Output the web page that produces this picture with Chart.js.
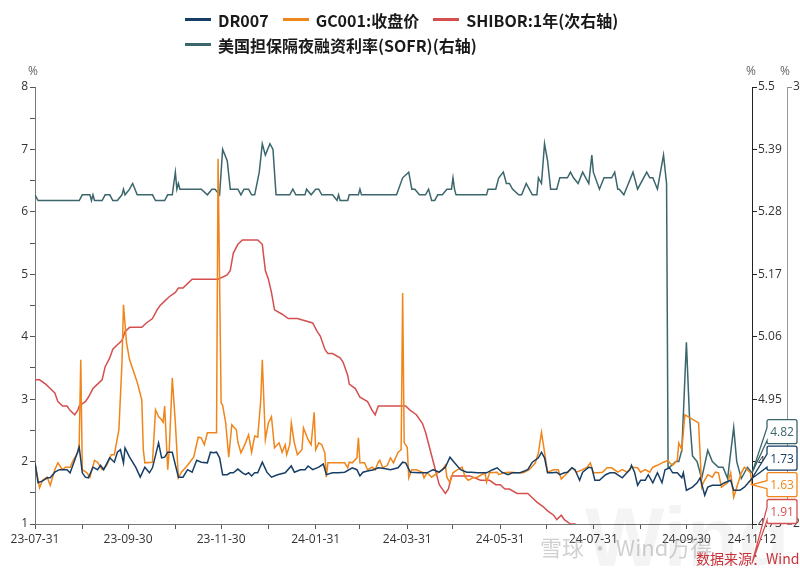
<!DOCTYPE html>
<html>
<head>
<meta charset="utf-8">
<script src="https://cdn.jsdelivr.net/npm/chart.js@4.4.1/dist/chart.umd.min.js"></script>
<style>
  html, body { margin: 0; padding: 0; background: #fff; }
  #wrap { position: relative; width: 800px; height: 569px; }
  #legend { position: absolute; left: 185px; top: 7px; font: 600 16px "Noto Sans CJK SC", sans-serif; color: #1a1a1a; }
  .row { height: 25px; display: flex; align-items: center; }
  .item { display: flex; align-items: center; margin-right: 14px; white-space: nowrap; }
  .sw { width: 26px; height: 3px; margin-right: 7px; }
</style>
</head>
<body>
<div id="wrap">
  <canvas id="chart" width="800" height="569"></canvas>
  <div id="legend"></div>
</div>
<script>
// days counted from 2023-07-31
const seriesNames = ['DR007', 'GC001:收盘价', 'SHIBOR:1年(次右轴)', '美国担保隔夜融资利率(SOFR)(右轴)'];
const seriesColors = ['#173f66', '#f0851a', '#d64f4f', '#3a666c'];

const xTickDays = [0, 31, 61, 92, 122, 153, 184, 213, 244, 274, 305, 335, 366, 397, 427, 470];
const xTickLabels = ['23-07-31', '', '23-09-30', '', '23-11-30', '', '24-01-31', '', '24-03-31', '', '24-05-31', '', '24-07-31', '', '24-09-30', '24-11-12'];
const leftTicks = [1, 1.5, 2, 2.5, 3, 3.5, 4, 4.5, 5, 5.5, 6, 6.5, 7, 7.5, 8];
const rightTicks = [4.73, 4.84, 4.95, 5.06, 5.17, 5.28, 5.39, 5.5];
const right2Ticks = [2, 3];

const dr007 = [
  [0,1.98],[2,1.66],[5,1.69],[8,1.74],[10,1.74],[13,1.83],[16,1.87],[21,1.87],[23,1.82],[26,2.02],
  [29,2.23],[31,1.82],[33,1.75],[35,1.74],[38,1.91],[41,1.87],[43,1.94],[45,1.87],[49,2.06],[52,1.99],
  [54,2.15],[56,2.19],[58,1.98],[59,2.22],[62,2.07],[66,1.91],[69,1.75],[72,1.91],[75,1.82],[77,1.90],
  [81,2.30],[83,2.06],[85,2.07],[87,2.15],[90,2.15],[94,1.75],[97,1.75],[100,1.87],[103,1.83],[106,2.02],
  [109,1.99],[113,1.98],[115,2.15],[117,2.14],[119,2.15],[121,2.06],[123,1.79],[126,1.79],[128,1.82],[130,1.82],
  [133,1.88],[136,1.82],[138,1.79],[140,1.82],[142,1.77],[144,1.82],[146,1.82],[149,1.99],[152,1.83],[155,1.75],
  [159,1.79],[164,1.82],[168,1.93],[170,1.83],[174,1.87],[177,1.87],[179,1.93],[182,1.87],[186,1.91],[189,1.96],
  [191,1.79],[195,1.82],[199,1.82],[203,1.83],[208,1.90],[211,1.87],[213,1.77],[215,1.83],[218,1.85],[222,1.87],
  [225,1.90],[229,1.89],[233,1.87],[238,1.90],[241,1.99],[243,1.98],[246,1.83],[252,1.82],[257,1.82],[261,1.87],
  [265,1.83],[269,1.91],[272,2.07],[275,1.98],[279,1.87],[283,1.83],[286,1.83],[290,1.82],[296,1.82],[300,1.87],
  [303,1.90],[306,1.83],[310,1.79],[313,1.82],[318,1.82],[323,1.87],[326,1.99],[330,2.06],[332,2.15],[334,2.06],
  [336,1.82],[339,1.82],[342,1.83],[344,1.79],[347,1.82],[349,1.83],[352,1.90],[354,1.87],[357,1.70],[359,1.83],
  [363,1.91],[365,1.90],[367,1.70],[370,1.70],[374,1.79],[377,1.82],[380,1.82],[385,1.74],[388,1.82],[390,1.87],
  [391,1.94],[393,1.83],[395,1.62],[397,1.70],[400,1.70],[402,1.79],[405,1.66],[408,1.82],[411,1.66],[413,1.87],
  [416,1.90],[418,1.82],[421,1.82],[424,1.74],[425,1.82],[427,1.54],[431,1.59],[434,1.66],[436,1.74],[439,1.46],
  [441,1.59],[444,1.62],[449,1.62],[452,1.66],[456,1.70],[458,1.54],[462,1.54],[465,1.59],[469,1.70],[470,1.73]
];

const gc001 = [
  [0,1.98],[3,1.58],[5,1.70],[8,1.75],[10,1.62],[13,1.87],[15,1.98],[18,1.87],[20,1.91],[23,1.91],
  [25,2.02],[28,2.14],[29,2.30],[30,3.63],[31,1.87],[34,1.82],[36,1.75],[39,2.02],[41,1.99],[44,1.87],
  [47,1.94],[50,2.11],[52,2.11],[55,2.51],[57,3.58],[58,4.51],[60,3.90],[62,3.63],[67,3.27],[70,2.99],
  [71,2.19],[72,1.98],[77,1.99],[79,2.83],[81,2.72],[83,2.67],[84,2.63],[85,2.89],[87,1.87],[88,2.19],
  [90,3.34],[92,2.62],[94,1.74],[96,1.83],[100,1.94],[104,2.07],[107,2.39],[109,2.38],[111,2.27],[113,2.46],
  [119,2.46],[120,6.85],[122,2.94],[123,2.90],[125,2.62],[127,2.07],[129,2.59],[132,2.51],[133,2.31],[135,2.14],
  [138,2.30],[140,2.43],[142,2.15],[144,2.41],[146,2.39],[148,2.99],[149,3.63],[151,2.35],[153,2.62],[155,2.72],
  [157,2.22],[160,2.30],[162,2.15],[164,2.27],[165,2.11],[167,2.27],[168,2.62],[170,2.30],[172,2.11],[175,2.19],
  [176,2.54],[179,2.35],[181,2.27],[183,2.79],[184,2.19],[186,2.30],[188,2.27],[190,2.14],[191,1.75],[192,1.98],
  [203,1.98],[205,1.90],[206,1.99],[208,1.98],[211,2.06],[212,2.38],[213,1.98],[216,1.98],[218,1.87],[221,1.91],
  [223,1.87],[225,1.99],[226,2.02],[228,1.90],[231,1.94],[233,2.06],[235,1.98],[238,2.15],[240,2.19],[241,4.70],
  [242,2.30],[244,2.23],[245,1.74],[247,1.87],[250,1.87],[254,1.83],[255,1.74],[257,1.82],[260,1.75],[264,1.82],
  [267,1.87],[269,1.94],[270,1.75],[272,1.66],[274,1.82],[277,1.87],[280,1.91],[282,1.75],[284,1.70],[287,1.74],
  [290,1.75],[295,1.82],[296,1.67],[298,1.82],[303,1.83],[304,1.79],[307,1.82],[311,1.83],[316,1.82],[320,1.82],
  [324,1.87],[328,1.98],[330,2.14],[332,2.47],[334,2.15],[336,1.83],[340,1.87],[343,1.87],[345,1.72],[349,1.82],
  [352,1.90],[355,1.83],[359,1.87],[362,1.91],[364,1.98],[366,1.82],[369,1.82],[372,1.83],[375,1.90],[378,1.90],
  [382,1.83],[385,1.87],[388,1.83],[391,1.91],[395,1.90],[397,1.83],[400,1.87],[403,1.83],[405,1.91],[408,1.94],
  [412,1.99],[415,2.02],[416,1.98],[418,1.94],[421,2.02],[422,2.30],[424,2.19],[426,2.75],[428,2.72],[435,2.62],
  [437,1.59],[438,1.66],[441,1.79],[444,1.75],[446,1.83],[448,1.82],[450,1.59],[454,1.66],[456,1.82],[458,1.43],
  [460,1.59],[463,1.82],[465,1.91],[469,1.82],[470,1.63]
];

const shibor = [
  [0,2.33],[3,2.33],[7,2.32],[10,2.31],[13,2.30],[15,2.28],[18,2.27],[21,2.27],[23,2.26],[26,2.25],
  [28,2.26],[29,2.27],[33,2.28],[35,2.29],[38,2.31],[41,2.32],[44,2.33],[46,2.36],[49,2.38],[51,2.40],
  [54,2.41],[57,2.42],[59,2.44],[62,2.45],[70,2.45],[73,2.46],[77,2.47],[80,2.49],[82,2.50],[85,2.51],
  [88,2.52],[92,2.53],[94,2.54],[97,2.54],[100,2.55],[103,2.56],[111,2.56],[120,2.56],[126,2.57],[128,2.58],
  [130,2.62],[133,2.64],[136,2.65],[142,2.65],[146,2.65],[149,2.64],[151,2.58],[153,2.56],[155,2.53],[157,2.49],
  [162,2.48],[166,2.47],[172,2.47],[182,2.46],[185,2.44],[187,2.43],[190,2.40],[192,2.39],[195,2.39],[200,2.38],
  [202,2.37],[205,2.34],[206,2.32],[210,2.31],[213,2.29],[218,2.28],[221,2.26],[223,2.25],[225,2.27],[227,2.27],
  [239,2.27],[243,2.27],[246,2.26],[250,2.25],[254,2.23],[256,2.21],[259,2.17],[262,2.13],[265,2.09],[269,2.07],
  [271,2.08],[273,2.11],[279,2.11],[285,2.11],[292,2.10],[298,2.10],[302,2.09],[305,2.09],[308,2.08],[311,2.08],
  [316,2.07],[319,2.07],[323,2.07],[326,2.06],[329,2.05],[333,2.04],[336,2.03],[340,2.02],[342,2.01],[345,2.02],
  [347,2.01],[351,2.00],[354,2.00],[360,1.98],[380,1.96],[400,1.95],[420,1.93],[440,1.92],[470,1.91]
];

const sofr = [
  [0,5.31],[2,5.30],[29,5.30],[31,5.31],[36,5.31],[37,5.30],[38,5.31],[39,5.30],[44,5.30],[46,5.31],
  [49,5.31],[51,5.30],[54,5.30],[57,5.31],[58,5.32],[59,5.31],[62,5.32],[64,5.33],[67,5.31],[69,5.31],
  [77,5.31],[79,5.30],[85,5.30],[87,5.31],[90,5.31],[92,5.35],[93,5.32],[94,5.33],[95,5.32],[109,5.32],
  [113,5.31],[116,5.32],[118,5.32],[121,5.31],[123,5.39],[126,5.37],[128,5.32],[133,5.32],[135,5.31],[137,5.32],
  [140,5.32],[142,5.31],[144,5.31],[147,5.35],[149,5.40],[151,5.38],[154,5.40],[156,5.39],[158,5.31],[167,5.31],
  [169,5.32],[171,5.31],[177,5.31],[178,5.32],[181,5.31],[184,5.32],[186,5.32],[188,5.31],[195,5.31],[198,5.30],
  [199,5.31],[200,5.30],[205,5.30],[206,5.31],[212,5.31],[213,5.32],[214,5.31],[237,5.31],[241,5.34],[245,5.35],
  [247,5.32],[249,5.32],[252,5.31],[256,5.31],[258,5.32],[260,5.30],[262,5.30],[264,5.31],[267,5.31],[270,5.32],
  [273,5.32],[274,5.34],[275,5.32],[276,5.31],[296,5.31],[297,5.32],[302,5.32],[304,5.34],[307,5.35],[309,5.33],
  [311,5.33],[313,5.32],[317,5.31],[319,5.31],[322,5.33],[324,5.32],[326,5.31],[329,5.31],[330,5.34],[332,5.33],
  [334,5.40],[336,5.37],[338,5.32],[342,5.32],[344,5.34],[349,5.34],[351,5.35],[353,5.34],[356,5.33],[359,5.35],
  [363,5.33],[365,5.38],[366,5.35],[370,5.32],[373,5.34],[378,5.34],[380,5.35],[382,5.32],[383,5.32],[386,5.31],
  [389,5.33],[392,5.35],[395,5.32],[401,5.35],[403,5.34],[405,5.34],[408,5.32],[412,5.38],[414,5.33],[415,4.83],
  [416,4.83],[420,4.84],[422,4.84],[424,4.86],[427,5.05],[429,4.92],[431,4.85],[434,4.84],[437,4.81],[441,4.86],
  [444,4.84],[448,4.83],[451,4.83],[454,4.81],[458,4.90],[460,4.84],[463,4.81],[467,4.83],[470,4.82]
];

const seriesData = [dr007, gc001, shibor, sofr];
const seriesAxes = ['y', 'y', 'y2', 'y1'];

// legend, laid out as in the reference: three items then one
const legendRows = [[0, 1, 2], [3]];
const legendEl = document.getElementById('legend');
legendRows.forEach(row => {
  const r = document.createElement('div');
  r.className = 'row';
  row.forEach(i => {
    const item = document.createElement('div');
    item.className = 'item';
    item.innerHTML = `<span class="sw" style="background:${seriesColors[i]}"></span>${seriesNames[i]}`;
    r.appendChild(item);
  });
  legendEl.appendChild(r);
});

const tickFont = { family: '"Open Sans", "Noto Sans", sans-serif', size: 12 };

// units, value callouts at the right end, source note and watermark
const extras = {
  id: 'extras',
  beforeDatasetsDraw(chart) {
    const ctx = chart.ctx;
    ctx.save();
    ctx.fillStyle = 'rgba(0,0,0,0.045)';
    ctx.font = 'bold 84px "Liberation Sans", sans-serif';
    ctx.textBaseline = 'alphabetic';
    ctx.fillText('Wind', 585, 566);
    ctx.restore();
  },
  afterDraw(chart) {
    const ctx = chart.ctx;
    const area = chart.chartArea;
    ctx.save();
    ctx.font = '12px "Open Sans", sans-serif';
    ctx.fillStyle = '#666';
    ctx.textAlign = 'center';
    ctx.textBaseline = 'middle';
    ctx.fillText('%', chart.scales.y.right - 2, 72);
    ctx.fillText('%', chart.scales.y1.left - 1, 72);
    ctx.fillText('%', chart.scales.y2.left - 2, 72);

    // callouts: place at the end value, push apart from the bottom
    const h = 24, gap = 26.5;
    const items = seriesData.map((d, i) => {
      const last = d[d.length - 1];
      const yScale = chart.scales[seriesAxes[i]];
      return { i, val: last[1], tip: yScale.getPixelForValue(last[1]) };
    }).sort((a, b) => b.tip - a.tip);
    let limit = area.bottom - h / 2 - 0.5;
    items.forEach(it => {
      it.cy = Math.min(it.tip, limit);
      limit = it.cy - gap;
    });
    const tipX = chart.scales.x.getPixelForValue(470);
    const bx = 767, bw = 30;
    ctx.font = '12px "Open Sans", sans-serif';
    items.forEach(it => {
      const col = seriesColors[it.i];
      const top = it.cy - h / 2, bot = it.cy + h / 2;
      const a1 = Math.max(top + 3, Math.min(it.tip, it.cy) - 4);
      const a2 = Math.min(bot - 3, Math.max(it.tip, it.cy) + 4);
      ctx.beginPath();
      ctx.moveTo(tipX, it.tip);
      ctx.lineTo(bx, a1);
      ctx.lineTo(bx, top + 2);
      ctx.quadraticCurveTo(bx, top, bx + 2, top);
      ctx.lineTo(bx + bw - 2, top);
      ctx.quadraticCurveTo(bx + bw, top, bx + bw, top + 2);
      ctx.lineTo(bx + bw, bot - 2);
      ctx.quadraticCurveTo(bx + bw, bot, bx + bw - 2, bot);
      ctx.lineTo(bx + 2, bot);
      ctx.quadraticCurveTo(bx, bot, bx, bot - 2);
      ctx.lineTo(bx, a2);
      ctx.closePath();
      ctx.fillStyle = '#fff';
      ctx.fill();
      ctx.strokeStyle = col;
      ctx.lineWidth = 1.3;
      ctx.stroke();
      ctx.fillStyle = col;
      ctx.fillText(it.val.toFixed(2), bx + bw / 2, it.cy + 1);
    });

    ctx.textAlign = 'left';
    ctx.textBaseline = 'alphabetic';
    ctx.font = '22px "Noto Sans CJK SC", sans-serif';
    ctx.fillStyle = 'rgba(150,150,150,0.45)';
    ctx.fillText('雪球 · Wind万得', 540, 556);
    ctx.font = '14px "Noto Sans CJK SC", sans-serif';
    ctx.fillStyle = '#c8323a';
    ctx.fillText('数据来源：Wind', 696, 564);
    ctx.restore();
  }
};

const ctx = document.getElementById('chart').getContext('2d');
new Chart(ctx, {
  type: 'line',
  data: {
    datasets: seriesData.map((d, i) => ({
      label: seriesNames[i],
      data: d.map(p => ({ x: p[0], y: p[1] })),
      yAxisID: seriesAxes[i],
      borderColor: seriesColors[i],
      backgroundColor: seriesColors[i],
      borderWidth: 1.5,
      pointRadius: 0,
      tension: 0,
      fill: false
    }))
  },
  options: {
    responsive: false,
    devicePixelRatio: 1,
    animation: false,
    layout: { padding: { top: 87, left: 0, right: 0, bottom: 0 } },
    plugins: {
      legend: { display: false },
      tooltip: { enabled: false }
    },
    scales: {
      x: {
        type: 'linear',
        min: 0,
        max: 470,
        afterBuildTicks: s => { s.ticks = xTickDays.map(v => ({ value: v })); },
        afterFit: s => { s.height = 45; },
        ticks: {
          autoSkip: false,
          maxRotation: 0,
          padding: 3,
          color: '#333',
          font: tickFont,
          callback: v => xTickLabels[xTickDays.indexOf(v)]
        },
        grid: { drawOnChartArea: false, tickLength: 5, tickColor: '#555' },
        border: { color: '#777' }
      },
      y: {
        position: 'left',
        min: 1,
        max: 8,
        afterBuildTicks: s => { s.ticks = leftTicks.map(v => ({ value: v })); },
        afterFit: s => { s.width = 35; },
        ticks: {
          padding: 2,
          color: '#333',
          font: tickFont,
          callback: v => Number.isInteger(v) ? String(v) : ''
        },
        grid: { drawOnChartArea: false, tickLength: 5, tickColor: '#555' },
        border: { color: '#777' }
      },
      y1: {
        position: 'right',
        weight: 0,
        min: 4.73,
        max: 5.5,
        afterBuildTicks: s => { s.ticks = rightTicks.map(v => ({ value: v })); },
        afterFit: s => { s.width = 35; },
        ticks: {
          padding: 1,
          color: '#333',
          font: tickFont,
          callback: v => String(+v.toFixed(2))
        },
        grid: { drawOnChartArea: false, tickLength: 5, tickColor: '#222' },
        border: { color: '#222' }
      },
      y2: {
        position: 'right',
        weight: 1,
        min: 2,
        max: 3,
        afterBuildTicks: s => { s.ticks = right2Ticks.map(v => ({ value: v })); },
        afterFit: s => { s.width = 13; },
        ticks: {
          padding: 1,
          color: '#333',
          font: tickFont,
          callback: v => String(v)
        },
        grid: { drawOnChartArea: false, tickLength: 5, tickColor: '#888' },
        border: { color: '#999' }
      }
    }
  },
  plugins: [extras]
});
</script>
</body>
</html>
